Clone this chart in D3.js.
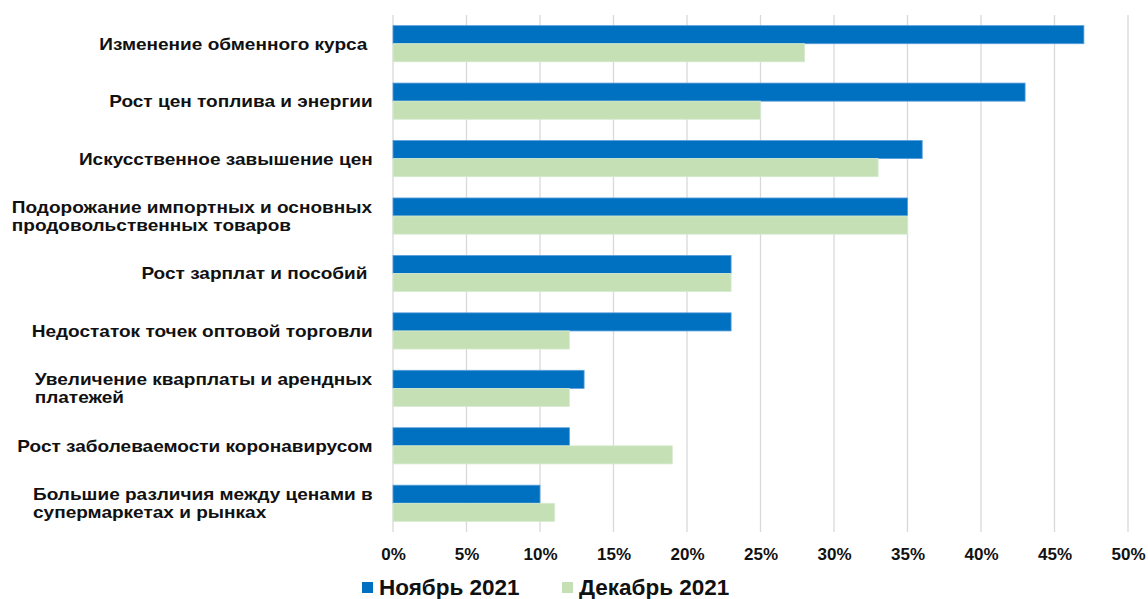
<!DOCTYPE html>
<html>
<head>
<meta charset="utf-8">
<script src="https://cdn.jsdelivr.net/npm/d3@7"></script>
<style>
  html, body { margin: 0; padding: 0; background: #fff; }
  svg { display: block; font-family: "Liberation Sans", Arial, sans-serif; }
</style>
</head>
<body>
<svg id="chart" width="1148" height="599"></svg>
<script>
// Factors behind price growth, share of respondents
const categories = [
  ["Изменение обменного курса "],
  ["Рост цен топлива и энергии"],
  ["Искусственное завышение цен"],
  ["Подорожание импортных и основных", "продовольственных товаров"],
  ["Рост зарплат и пособий "],
  ["Недостаток точек оптовой торговли"],
  ["Увеличение кварплаты и арендных", "платежей"],
  ["Рост заболеваемости коронавирусом"],
  ["Большие различия между ценами в", "супермаркетах и рынках"]
];
const seriesNames = ["Ноябрь 2021", "Декабрь 2021"];
const november = [47, 43, 36, 35, 23, 23, 13, 12, 10];
const december = [28, 25, 33, 35, 23, 12, 12, 19, 11];
const xTicks = [0, 5, 10, 15, 20, 25, 30, 35, 40, 45, 50];

const colors = ["#0070C0", "#C5E0B4"];
const strokes = ["#5aa0dc", "#d6ead0"];

const svg = d3.select("#chart");
const plot = { left: 393, right: 1128, top: 15, bottom: 532 };

const x = d3.scaleLinear().domain([0, 50]).range([plot.left, plot.right]);
const y = d3.scaleBand().domain(d3.range(categories.length))
  .range([plot.top, plot.bottom]).paddingInner(0.37).paddingOuter(0.185);
const sub = d3.scaleBand().domain([0, 1]).range([0, y.bandwidth()]);

// vertical gridlines
svg.append("g").selectAll("line").data(xTicks).join("line")
  .attr("x1", d => x(d)).attr("x2", d => x(d))
  .attr("y1", plot.top).attr("y2", plot.bottom)
  .attr("stroke", "#d9d9d9").attr("stroke-width", 1.3);

// x axis labels
const xAxis = d3.axisBottom(x).tickValues(xTicks).tickFormat(d => d + "%").tickSize(0).tickPadding(0);
const gx = svg.append("g").attr("transform", `translate(0,${plot.bottom + 28})`).call(xAxis);
gx.select(".domain").remove();
gx.selectAll("text")
  .attr("dy", 0)
  .attr("font-family", "Liberation Sans, Arial, sans-serif")
  .attr("font-size", 17).attr("font-weight", "bold").attr("fill", "#111");

// bars
const series = [november, december];
series.forEach((vals, s) => {
  svg.append("g").selectAll("rect").data(vals).join("rect")
    .attr("x", x(0))
    .attr("y", (d, i) => y(i) + sub(s))
    .attr("width", d => x(d) - x(0))
    .attr("height", sub.bandwidth())
    .attr("fill", colors[s])
    .attr("stroke", strokes[s]).attr("stroke-width", 0.8);
});

// category labels: block right-aligned, lines left-aligned within block,
// set in a slightly widened bold face
const lineH = 18;
const labelRight = 373;
const sx = 1.12;
const lg = svg.append("g").attr("font-size", 17).attr("font-weight", "bold").attr("fill", "#111");
categories.forEach((lines, i) => {
  const cy = y(i) + y.bandwidth() / 2;
  const t = lg.append("text").attr("xml:space", "preserve");
  lines.forEach((ln, j) => {
    const base = lines.length === 1 ? cy + 6 : cy - 3.5 + j * lineH;
    t.append("tspan").attr("x", 0).attr("y", base).text(ln);
  });
  const w = t.node().getBBox().width;
  t.attr("transform", `translate(${labelRight - w * sx},0) scale(${sx},1)`);
});

// legend
const legend = svg.append("g").attr("font-size", 22.5).attr("font-weight", "bold").attr("fill", "#111");
const legendX = [362, 562];
seriesNames.forEach((name, s) => {
  legend.append("rect").attr("x", legendX[s]).attr("y", 582)
    .attr("width", 11).attr("height", 11).attr("fill", colors[s]);
  legend.append("text").attr("x", legendX[s] + 17).attr("y", 594.5).text(name);
});
</script>
</body>
</html>
